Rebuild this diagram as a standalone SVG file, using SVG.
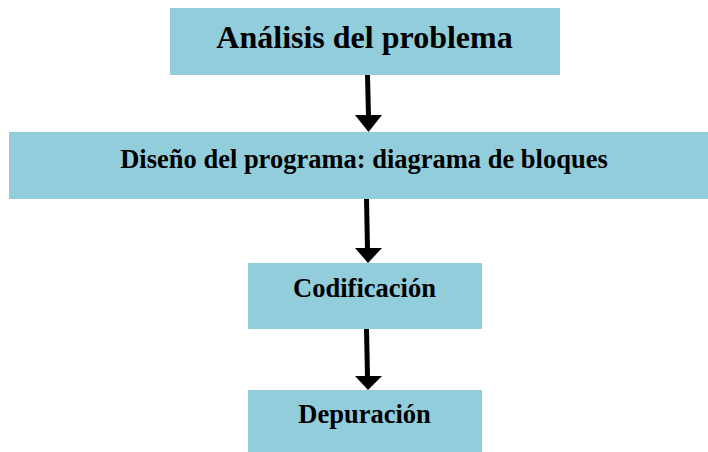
<svg xmlns="http://www.w3.org/2000/svg" width="708" height="452" viewBox="0 0 708 452">
<defs>
<style>
.box{fill:#92CDDC;}
.t{font-family:"Liberation Serif","Times New Roman",serif;font-weight:bold;fill:#000;text-anchor:middle;}
.c{stroke:#000;stroke-width:5;fill:none;}
.h{fill:#000;}
</style>
</defs>
<rect width="708" height="452" fill="#fff"/>
<g id="n1"><rect class="box" x="170" y="8" width="390" height="67"/><text class="t" x="364.5" y="48" font-size="32">Análisis del problema</text></g>
<g id="n2"><rect class="box" x="9" y="132" width="699" height="67"/><text class="t" x="364" y="167.5" font-size="26.5">Diseño del programa: diagrama de bloques</text></g>
<g id="n3"><rect class="box" x="248" y="263" width="234" height="66"/><text class="t" x="364.5" y="297" font-size="26.5">Codificación</text></g>
<g id="n4"><rect class="box" x="248" y="390" width="234" height="62"/><text class="t" x="364.5" y="423" font-size="26.5">Depuración</text></g>
<g id="connectors">
<path class="c" d="M367.5 75 L368.5 116"/><polygon class="h" points="355,115 382,115 368.5,132"/>
<path class="c" d="M366.5 199 L367.5 249"/><polygon class="h" points="355,248 382,248 368,263"/>
<path class="c" d="M366.5 329 L367.5 377"/><polygon class="h" points="355,376 382,376 368,390"/>
</g>
</svg>
